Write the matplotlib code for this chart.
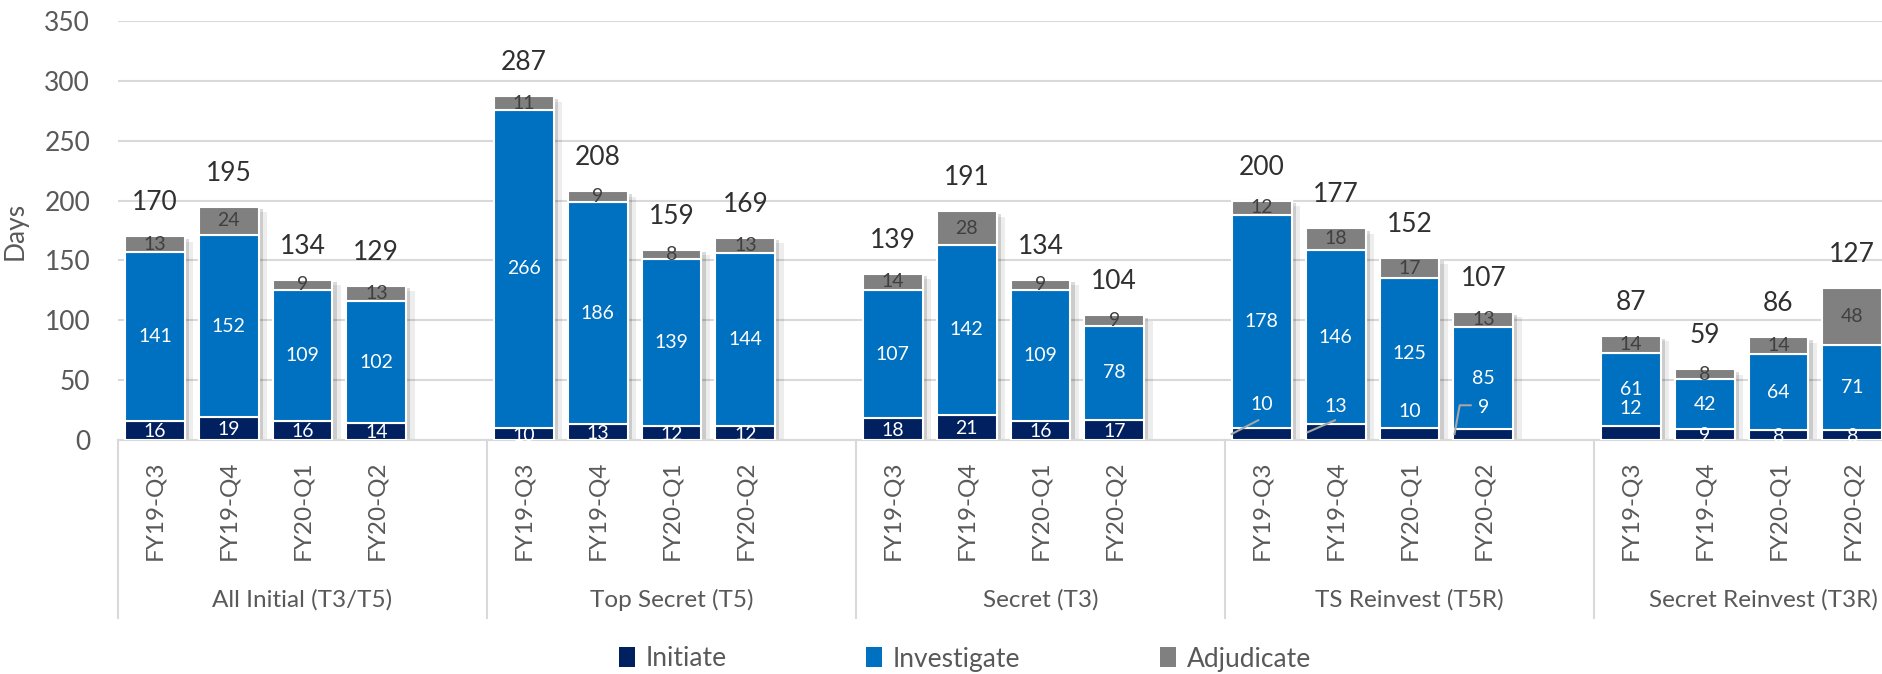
import matplotlib
matplotlib.use('Agg')
import matplotlib.pyplot as plt
import matplotlib.patheffects as pe
from matplotlib.patches import Patch
import numpy as np

plt.rcParams['font.family'] = ['Lato', 'DejaVu Sans']

# Data
groups = ['All Initial (T3/T5)', 'Top Secret (T5)', 'Secret (T3)', 'TS Reinvest (T5R)', 'Secret Reinvest (T3R)']
quarters = ['FY19-Q3', 'FY19-Q4', 'FY20-Q1', 'FY20-Q2']
initiate = [16, 19, 16, 14, 10, 13, 12, 12, 18, 21, 16, 17, 10, 13, 10, 9, 12, 9, 8, 8]
investigate = [141, 152, 109, 102, 266, 186, 139, 144, 107, 142, 109, 78, 178, 146, 125, 85, 61, 42, 64, 71]
adjudicate = [13, 24, 9, 13, 11, 9, 8, 13, 14, 28, 9, 9, 12, 18, 17, 13, 14, 8, 14, 48]
totals = [170, 195, 134, 129, 287, 208, 159, 169, 139, 191, 134, 104, 200, 177, 152, 107, 87, 59, 86, 127]

# Initiate labels that were moved up out of the thin segment (index -> label y)
moved_labels = {12: 30, 13: 28, 14: 24, 15: 27, 16: 26}
# leader lines for the moved labels (index -> points as (dx from bar centre, y))
leaders = {12: [(-0.41, 5), (-0.05, 16.5)],
           13: [(-0.38, 6.5), (-0.01, 16.5)],
           15: [(-0.39, 5), (-0.32, 29), (-0.17, 29)]}

c_init = '#002060'
c_inv = '#0070C0'
c_adj = '#808080'
grey_txt = '#595959'

n_slots = 5  # four quarters plus an empty slot per group
x = np.array([g * n_slots + q for g in range(len(groups)) for q in range(len(quarters))])
initiate = np.array(initiate)
investigate = np.array(investigate)
adjudicate = np.array(adjudicate)

W, H = 1882, 674
fig = plt.figure(figsize=(W / 100, H / 100), dpi=100)
slot_px = 73.8
ax = fig.add_axes([118 / W, (H - 440) / H, 25 * slot_px / W, 419 / H])
ax.set_xlim(-0.5, len(groups) * n_slots - 0.5)
ax.set_ylim(0, 350)

bw = 0.81
# shadows under the stacks
ax.bar(x, totals, bw, color='white', zorder=2,
       path_effects=[pe.SimplePatchShadow(offset=(6, -4), shadow_rgbFace='black', alpha=0.07),
                     pe.SimplePatchShadow(offset=(3, -2), shadow_rgbFace='black', alpha=0.14),
                     pe.Normal()])
ax.bar(x, initiate, bw, color=c_init, edgecolor='white', linewidth=1.5, zorder=3)
ax.bar(x, investigate, bw, bottom=initiate, color=c_inv, edgecolor='white', linewidth=1.5, zorder=3)
ax.bar(x, adjudicate, bw, bottom=initiate + investigate, color=c_adj, edgecolor='white', linewidth=1.5, zorder=3)

# segment labels
for i, xi in enumerate(x):
    if i in moved_labels:
        ax.text(xi, moved_labels[i], str(initiate[i]), ha='center', va='center', color='white', fontsize=14, zorder=5)
    else:
        ax.text(xi, initiate[i] / 2 - 1, str(initiate[i]), ha='center', va='center', color='white', fontsize=14, zorder=5)
    ax.text(xi, initiate[i] + investigate[i] / 2, str(investigate[i]), ha='center', va='center',
            color='white', fontsize=14, zorder=5)
    ax.text(xi, initiate[i] + investigate[i] + adjudicate[i] / 2, str(adjudicate[i]), ha='center', va='center',
            color='#404040', fontsize=14, zorder=5)
    ax.text(xi, totals[i] + 28, str(totals[i]), ha='center', va='center', color='#303030', fontsize=19, zorder=5)

for i, pts in leaders.items():
    ax.plot([x[i] + p[0] for p in pts], [p[1] for p in pts], color='#a6a6a6', lw=1.5, zorder=4)

# grid and axes styling
ax.set_yticks(np.arange(0, 351, 50))
ax.yaxis.grid(True, color='#d9d9d9', linewidth=1.5, zorder=0)
ax.set_axisbelow(True)
for s in ['top', 'right', 'left']:
    ax.spines[s].set_visible(False)
ax.spines['bottom'].set_color('#d9d9d9')
ax.spines['bottom'].set_linewidth(1.5)
ax.tick_params(axis='y', length=0, pad=20, labelsize=19, labelcolor=grey_txt)
ax.tick_params(axis='x', length=0)
ax.set_xticks([])
ax.set_ylabel('Days', fontsize=19, color=grey_txt, labelpad=12)

# two-level category axis
trans = ax.get_xaxis_transform()
sep_y = -(618 - 440) / 419
for g in range(len(groups) + 1):
    xs = g * n_slots - 0.5
    ax.plot([xs, xs], [0, sep_y], transform=trans, color='#d9d9d9', lw=1.5, clip_on=False)
for g, name in enumerate(groups):
    gx = g * n_slots + 2
    if g == len(groups) - 1:
        gx -= 0.2  # keep the last group label inside the cropped figure
    ax.text(gx, -(600 - 440) / 419, name, transform=trans, ha='center', va='center',
            fontsize=17.5, color=grey_txt)
    for q, qn in enumerate(quarters):
        ax.text(g * n_slots + q, -(460 - 440) / 419, qn, transform=trans, rotation=90, ha='center', va='top',
                fontsize=17.5, color=grey_txt)

handles = [Patch(facecolor=c_init, label='Initiate'),
           Patch(facecolor=c_inv, label='Investigate'),
           Patch(facecolor=c_adj, label='Adjudicate')]
leg = fig.legend(handles=handles, loc='center', bbox_to_anchor=(965 / W, 15 / H), ncol=3, frameon=False,
                 fontsize=19, handlelength=0.6, handleheight=0.8, handletextpad=0.4, columnspacing=5.3)
for t in leg.get_texts():
    t.set_color(grey_txt)

fig.savefig('out.png', dpi=100)
